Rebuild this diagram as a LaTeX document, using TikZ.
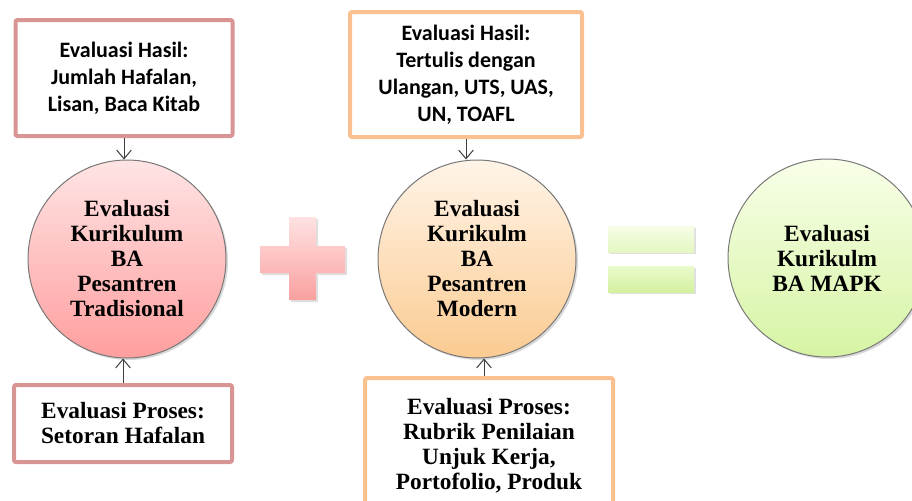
\documentclass[tikz,border=0pt]{standalone}
\usepackage{fontspec}
\setmainfont{Liberation Serif}
\newfontfamily\boxsans{Carlito}
\usetikzlibrary{arrows.meta,shadows}

\definecolor{pinkline}{RGB}{217,149,148}
\definecolor{orangeline}{RGB}{250,192,144}
\definecolor{circline}{RGB}{120,120,120}
\definecolor{arrline}{RGB}{60,60,60}

\tikzset{
  hasilbox/.style={draw,line width=3pt,fill=white,rounded corners=1.5pt,align=center,inner sep=0.75pt,
    font=\boxsans\bfseries\fontsize{16.5}{20.25}\selectfont},
  prosesbox/.style={draw,line width=3pt,fill=white,rounded corners=1.5pt,align=center,inner sep=0.75pt,
    font=\bfseries\fontsize{17.5}{18.75}\selectfont},
  kurcircle/.style={circle,draw=circline,line width=0.75pt,minimum size=148.5pt,inner sep=0pt,align=center,
    font=\bfseries\fontsize{17.5}{18.75}\selectfont,
    drop shadow={shadow xshift=1.5pt,shadow yshift=-1.5pt,opacity=0.3}},
  arr/.style={draw=arrline,line width=0.75pt,-{Straight Barb[length=6.5pt,width=11pt]}},
  sign/.style={drop shadow={shadow xshift=1.5pt,shadow yshift=-1.5pt,opacity=0.25}}
}

\begin{document}
\begin{tikzpicture}[x=0.75pt,y=0.75pt,yscale=-1,xscale=1]
\clip (0,0) rectangle (912,500);

%Shape: Rectangle [Evaluasi Hasil, tradisional]
\node [hasilbox,draw=pinkline,minimum width=162.75pt,minimum height=87pt] (hasilA) at (124,78)
  {Evaluasi Hasil:\\Jumlah Hafalan,\\Lisan, Baca Kitab};
%Shape: Rectangle [Evaluasi Hasil, modern]
\node [hasilbox,draw=orangeline,minimum width=174pt,minimum height=93.75pt] (hasilB) at (466,74.5)
  {Evaluasi Hasil:\\Tertulis dengan\\Ulangan, UTS, UAS,\\UN, TOAFL};
%Shape: Rectangle [Evaluasi Proses, tradisional]
\node [prosesbox,draw=pinkline,minimum width=163.5pt,minimum height=57.75pt] (prosesA) at (123,423.5)
  {Evaluasi Proses:\\Setoran Hafalan};
%Shape: Rectangle [Evaluasi Proses, modern]
\node [prosesbox,draw=orangeline,minimum width=186pt,minimum height=97.5pt,anchor=north] (prosesB) at (489,376)
  {\rule{0pt}{16pt}Evaluasi Proses:\\Rubrik Penilaian\\Unjuk Kerja,\\Portofolio, Produk};

%Shape: Circle
\node [kurcircle,top color={rgb,255:red,255;green,228;blue,228},bottom color={rgb,255:red,255;green,158;blue,158}] (kurA) at (127,259)
  {Evaluasi\\Kurikulum\\BA\\Pesantren\\Tradisional};
%Shape: Circle
\node [kurcircle,top color={rgb,255:red,255;green,244;blue,232},bottom color={rgb,255:red,251;green,203;blue,145}] (kurB) at (477,259)
  {Evaluasi\\Kurikulm\\BA\\Pesantren\\Modern};
%Shape: Circle
\node [kurcircle,top color={rgb,255:red,248;green,255;blue,232},bottom color={rgb,255:red,214;green,244;blue,164}] (kurC) at (827,258)
  {Evaluasi\\Kurikulm\\BA MAPK};

%Straight Lines
\draw [arr] (hasilA.south) -- (hasilA.south |- kurA.north) ;
%Straight Lines
\draw [arr] (prosesA.north) -- (prosesA.north |- kurA.south) ;
%Straight Lines
\draw [arr] (hasilB.south) -- (hasilB.south |- kurB.north) ;
%Straight Lines
\draw [arr] (kurB.south) ++(7,0) coordinate (pB) (pB |- prosesB.north) -- (pB) ;

%Shape: Plus
\path [sign,top color={rgb,255:red,255;green,226;blue,226},bottom color={rgb,255:red,250;green,160;blue,160}]
  (289,217) -- (316,217) -- (316,246) -- (345,246) -- (345,273) -- (316,273) -- (316,300) -- (289,300)
  -- (289,273) -- (260,273) -- (260,246) -- (289,246) -- cycle ;
%Shape: Equal
\path [sign,top color={rgb,255:red,246;green,253;blue,230},bottom color={rgb,255:red,228;green,247;blue,194}]
  (608,226) rectangle (694,252) ;
\path [sign,top color={rgb,255:red,234;green,250;blue,204},bottom color={rgb,255:red,212;green,241;blue,160}]
  (608,266) rectangle (694,292) ;

\end{tikzpicture}
\end{document}
